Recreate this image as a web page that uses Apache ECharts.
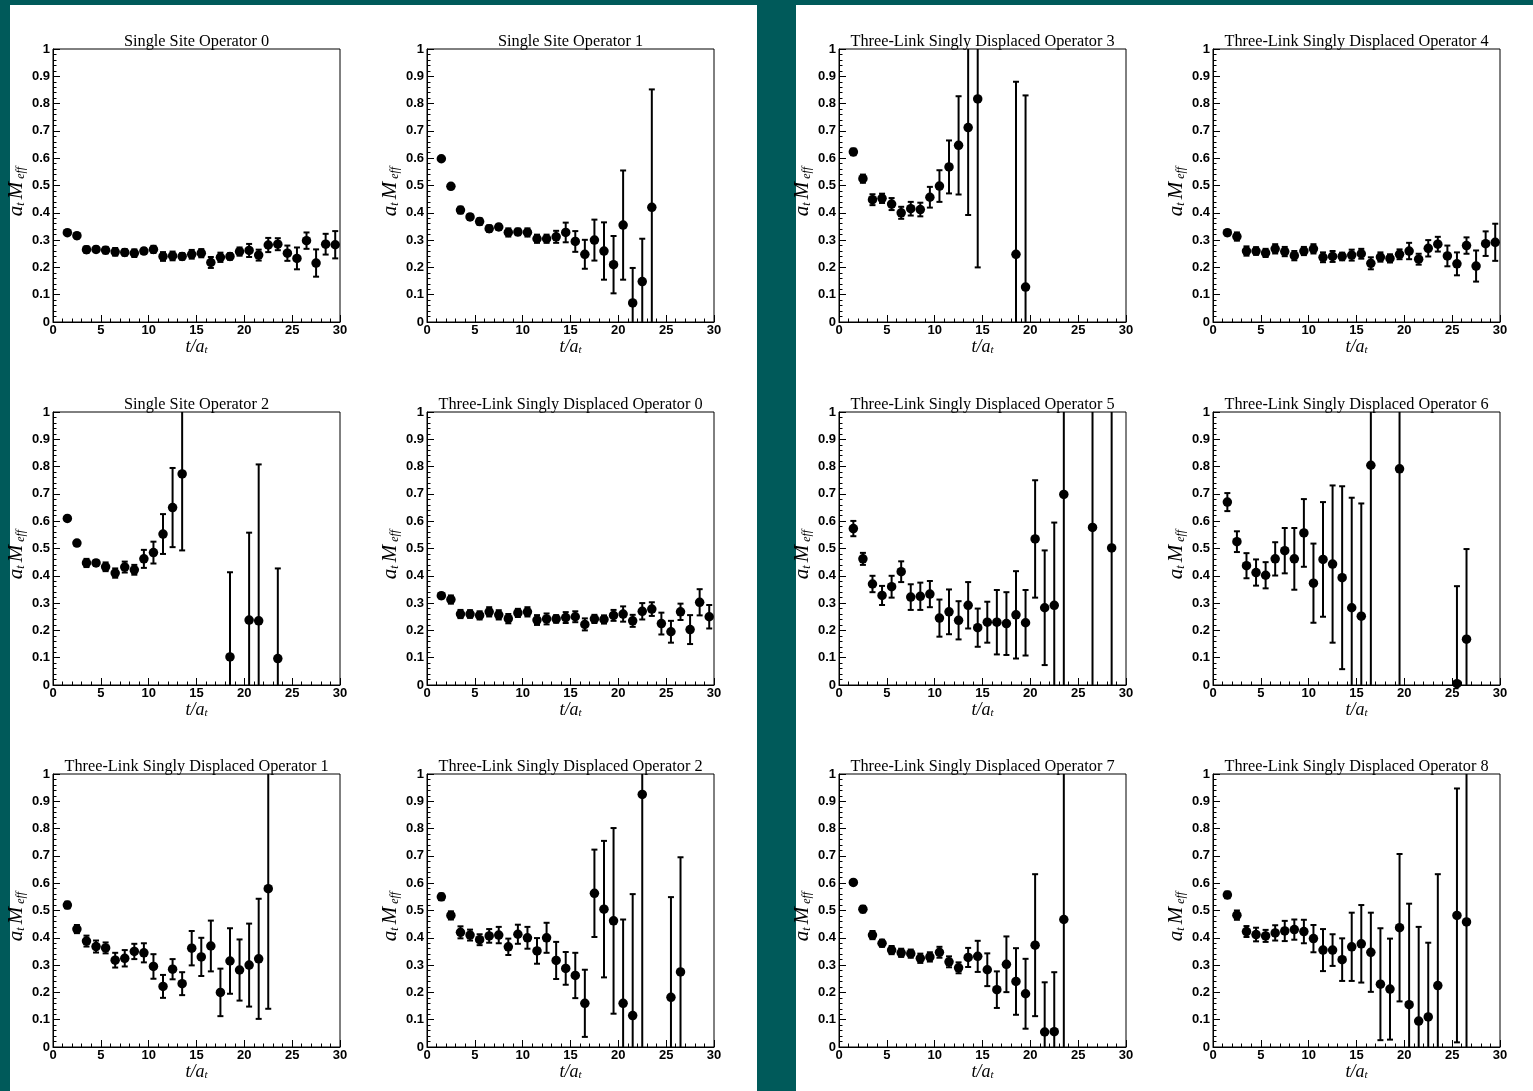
<!DOCTYPE html>
<html>
<head>
<meta charset="utf-8">
<script src="https://cdn.jsdelivr.net/npm/echarts@6/dist/echarts.min.js"></script>
<style>
html,body{margin:0;padding:0;background:#005a5a;}
#c{width:1533px;height:1091px;}
</style>
</head>
<body>
<div id="c"></div>
<script>
// ---------- DATA ----------
const tickX = [0, 5, 10, 15, 20, 25, 30];
const tickY = [0, 0.1, 0.2, 0.3, 0.4, 0.5, 0.6, 0.7, 0.8, 0.9, 1];

const ss0_t = [1.5,2.5,3.5,4.5,5.5,6.5,7.5,8.5,9.5,10.5,11.5,12.5,13.5,14.5,15.5,16.5,17.5,18.5,19.5,20.5,21.5,22.5,23.5,24.5,25.5,26.5,27.5,28.5,29.5];
const ss0_m = [0.327,0.316,0.265,0.266,0.263,0.257,0.255,0.252,0.260,0.266,0.240,0.242,0.240,0.248,0.252,0.218,0.237,0.240,0.258,0.262,0.245,0.282,0.285,0.252,0.233,0.298,0.216,0.285,0.283];
const ss0_e = [0.008,0.010,0.012,0.010,0.012,0.014,0.012,0.014,0.010,0.013,0.016,0.016,0.012,0.016,0.015,0.020,0.017,0.012,0.015,0.024,0.020,0.026,0.022,0.028,0.040,0.030,0.050,0.038,0.050];

const ss1_t = [1.5,2.5,3.5,4.5,5.5,6.5,7.5,8.5,9.5,10.5,11.5,12.5,13.5,14.5,15.5,16.5,17.5,18.5,19.5,20.5,21.5,22.5,23.5];
const ss1_m = [0.598,0.497,0.410,0.385,0.368,0.342,0.348,0.328,0.330,0.328,0.305,0.305,0.312,0.328,0.295,0.248,0.300,0.260,0.210,0.355,0.070,0.148,0.420];
const ss1_e = [0.005,0.008,0.012,0.010,0.012,0.012,0.010,0.015,0.012,0.015,0.015,0.015,0.022,0.036,0.038,0.053,0.075,0.105,0.105,0.200,0.128,0.157,0.432];

const ss2_t = [1.5,2.5,3.5,4.5,5.5,6.5,7.5,8.5,9.5,10.5,11.5,12.5,13.5,18.5,20.5,21.5,23.5];
const ss2_m = [0.610,0.520,0.447,0.447,0.433,0.410,0.432,0.422,0.462,0.485,0.553,0.650,0.773,0.103,0.238,0.235,0.097];
const ss2_e = [0.006,0.008,0.015,0.010,0.016,0.017,0.020,0.018,0.033,0.040,0.073,0.145,0.280,0.310,0.320,0.573,0.330];

const tl0_t = [1.5,2.5,3.5,4.5,5.5,6.5,7.5,8.5,9.5,10.5,11.5,12.5,13.5,14.5,15.5,16.5,17.5,18.5,19.5,20.5,21.5,22.5,23.5,24.5,25.5,26.5,27.5,28.5,29.5];
const tl0_m = [0.327,0.313,0.260,0.260,0.255,0.268,0.257,0.243,0.264,0.268,0.238,0.242,0.242,0.247,0.250,0.222,0.242,0.240,0.255,0.260,0.235,0.270,0.278,0.225,0.195,0.268,0.203,0.303,0.250];
const tl0_e = [0.010,0.015,0.015,0.014,0.015,0.017,0.017,0.017,0.015,0.017,0.018,0.020,0.014,0.020,0.020,0.022,0.015,0.015,0.020,0.028,0.022,0.030,0.025,0.040,0.040,0.030,0.053,0.048,0.043];

const tl1_t = [1.5,2.5,3.5,4.5,5.5,6.5,7.5,8.5,9.5,10.5,11.5,12.5,13.5,14.5,15.5,16.5,17.5,18.5,19.5,20.5,21.5,22.5];
const tl1_m = [0.520,0.432,0.388,0.368,0.363,0.318,0.325,0.350,0.345,0.295,0.222,0.285,0.232,0.362,0.330,0.370,0.200,0.315,0.282,0.300,0.323,0.580];
const tl1_e = [0.012,0.015,0.020,0.022,0.020,0.027,0.030,0.028,0.035,0.045,0.042,0.037,0.042,0.063,0.070,0.093,0.087,0.120,0.112,0.152,0.220,0.440];

const tl2_t = [1.5,2.5,3.5,4.5,5.5,6.5,7.5,8.5,9.5,10.5,11.5,12.5,13.5,14.5,15.5,16.5,17.5,18.5,19.5,20.5,21.5,22.5,25.5,26.5];
const tl2_m = [0.550,0.482,0.420,0.410,0.393,0.407,0.410,0.367,0.413,0.400,0.352,0.400,0.317,0.288,0.262,0.160,0.563,0.505,0.462,0.160,0.115,0.925,0.182,0.275];
const tl2_e = [0.012,0.015,0.022,0.020,0.020,0.025,0.030,0.030,0.035,0.040,0.047,0.055,0.068,0.060,0.083,0.123,0.160,0.250,0.340,0.307,0.445,1.000,0.367,0.420];

const tl3_t = [1.5,2.5,3.5,4.5,5.5,6.5,7.5,8.5,9.5,10.5,11.5,12.5,13.5,14.5,18.5,19.5];
const tl3_m = [0.623,0.525,0.448,0.453,0.432,0.400,0.415,0.412,0.457,0.498,0.568,0.647,0.712,0.817,0.248,0.128];
const tl3_e = [0.012,0.015,0.020,0.017,0.022,0.022,0.025,0.025,0.038,0.058,0.097,0.180,0.320,0.617,0.632,0.702];

const tl4_t = [1.5,2.5,3.5,4.5,5.5,6.5,7.5,8.5,9.5,10.5,11.5,12.5,13.5,14.5,15.5,16.5,17.5,18.5,19.5,20.5,21.5,22.5,23.5,24.5,25.5,26.5,27.5,28.5,29.5];
const tl4_m = [0.327,0.313,0.260,0.260,0.253,0.268,0.258,0.243,0.260,0.268,0.237,0.240,0.240,0.245,0.250,0.215,0.238,0.233,0.248,0.260,0.230,0.270,0.285,0.242,0.213,0.280,0.205,0.287,0.292];
const tl4_e = [0.010,0.015,0.017,0.014,0.015,0.017,0.017,0.017,0.015,0.017,0.018,0.020,0.014,0.020,0.018,0.022,0.017,0.015,0.018,0.030,0.020,0.030,0.027,0.038,0.042,0.030,0.057,0.045,0.068];

const tl5_t = [1.5,2.5,3.5,4.5,5.5,6.5,7.5,8.5,9.5,10.5,11.5,12.5,13.5,14.5,15.5,16.5,17.5,18.5,19.5,20.5,21.5,22.5,23.5,26.5,28.5];
const tl5_m = [0.573,0.462,0.370,0.328,0.360,0.415,0.322,0.325,0.333,0.245,0.268,0.237,0.292,0.210,0.230,0.230,0.225,0.257,0.228,0.535,0.283,0.292,0.698,0.577,0.502];
const tl5_e = [0.028,0.022,0.030,0.035,0.040,0.038,0.047,0.050,0.048,0.068,0.082,0.070,0.085,0.070,0.075,0.118,0.115,0.160,0.120,0.215,0.210,0.303,0.800,0.800,0.800];

const tl6_t = [1.5,2.5,3.5,4.5,5.5,6.5,7.5,8.5,9.5,10.5,11.5,12.5,13.5,14.5,15.5,16.5,19.5,25.5,26.5];
const tl6_m = [0.670,0.525,0.437,0.412,0.402,0.462,0.492,0.462,0.557,0.373,0.460,0.443,0.393,0.283,0.252,0.805,0.792,0.005,0.168];
const tl6_e = [0.033,0.038,0.046,0.048,0.048,0.061,0.083,0.113,0.124,0.145,0.210,0.288,0.335,0.403,0.413,0.900,0.900,0.357,0.330];

const tl7_t = [1.5,2.5,3.5,4.5,5.5,6.5,7.5,8.5,9.5,10.5,11.5,12.5,13.5,14.5,15.5,16.5,17.5,18.5,19.5,20.5,21.5,22.5,23.5];
const tl7_m = [0.603,0.505,0.410,0.380,0.355,0.345,0.342,0.325,0.330,0.347,0.312,0.290,0.328,0.332,0.283,0.210,0.303,0.240,0.195,0.373,0.055,0.056,0.467];
const tl7_e = [0.006,0.012,0.015,0.013,0.015,0.015,0.015,0.017,0.017,0.020,0.020,0.020,0.035,0.057,0.060,0.067,0.102,0.122,0.128,0.260,0.182,0.218,0.600];

const tl8_t = [1.5,2.5,3.5,4.5,5.5,6.5,7.5,8.5,9.5,10.5,11.5,12.5,13.5,14.5,15.5,16.5,17.5,18.5,19.5,20.5,21.5,22.5,23.5,25.5,26.5];
const tl8_m = [0.557,0.483,0.423,0.412,0.407,0.418,0.425,0.430,0.423,0.397,0.355,0.355,0.320,0.367,0.378,0.347,0.230,0.212,0.437,0.155,0.095,0.110,0.225,0.482,0.458];
const tl8_e = [0.012,0.017,0.020,0.025,0.022,0.028,0.037,0.037,0.043,0.050,0.077,0.058,0.078,0.125,0.142,0.145,0.205,0.185,0.270,0.370,0.345,0.272,0.408,0.465,0.600];

const panelTitles = [
  'Single Site Operator 0', 'Single Site Operator 1', 'Three-Link Singly Displaced Operator 3', 'Three-Link Singly Displaced Operator 4',
  'Single Site Operator 2', 'Three-Link Singly Displaced Operator 0', 'Three-Link Singly Displaced Operator 5', 'Three-Link Singly Displaced Operator 6',
  'Three-Link Singly Displaced Operator 1', 'Three-Link Singly Displaced Operator 2', 'Three-Link Singly Displaced Operator 7', 'Three-Link Singly Displaced Operator 8'
];
const panelData = [
  [ss0_t, ss0_m, ss0_e], [ss1_t, ss1_m, ss1_e], [tl3_t, tl3_m, tl3_e], [tl4_t, tl4_m, tl4_e],
  [ss2_t, ss2_m, ss2_e], [tl0_t, tl0_m, tl0_e], [tl5_t, tl5_m, tl5_e], [tl6_t, tl6_m, tl6_e],
  [tl1_t, tl1_m, tl1_e], [tl2_t, tl2_m, tl2_e], [tl7_t, tl7_m, tl7_e], [tl8_t, tl8_m, tl8_e]
];

// ---------- LAYOUT ----------
const colLeft = [53, 427, 839, 1213];
const rowTop = [49, 412, 774];
const plotW = 287, plotH = 273;

const chart = echarts.init(document.getElementById('c'), null, {renderer: 'canvas'});

const grids = [], xAxes = [], yAxes = [], series = [], titles = [];
const labelFont = {fontFamily: 'Liberation Sans, Arial, sans-serif', fontWeight: 'bold', fontSize: 13, color: '#000'};
const serif = 'Liberation Serif, Times New Roman, serif';

panelData.forEach((pd, i) => {
  const r = Math.floor(i / 4), c = i % 4;
  const left = colLeft[c], top = rowTop[r];
  grids.push({left: left, top: top, width: plotW, height: plotH, show: true,
    borderColor: '#000', borderWidth: 1, backgroundColor: 'transparent', containLabel: false});
  titles.push({text: panelTitles[i], left: left + plotW / 2, top: top - 15, textAlign: 'center', padding: 0,
    textStyle: {fontFamily: serif, fontSize: 16.3, fontWeight: 'normal', color: '#000'}});
  xAxes.push({type: 'value', gridIndex: i, min: tickX[0], max: tickX[tickX.length - 1], interval: 5,
    axisLine: {show: true, onZero: false, lineStyle: {color: '#000', width: 1}},
    axisTick: {show: true, inside: true, length: 7, lineStyle: {color: '#000', width: 1}},
    minorTick: {show: true, splitNumber: 5, length: 3.5, lineStyle: {color: '#000', width: 1}},
    splitLine: {show: false},
    axisLabel: Object.assign({margin: 2, showMinLabel: true, showMaxLabel: true}, labelFont),
    name: '{i|t/a}{s|t}', nameLocation: 'middle', nameGap: 7,
    nameTextStyle: {rich: {
      i: {fontFamily: serif, fontStyle: 'italic', fontSize: 18, color: '#000', verticalAlign: 'middle', lineHeight: 18},
      s: {fontFamily: serif, fontStyle: 'italic', fontSize: 11, color: '#000', verticalAlign: 'bottom', lineHeight: 8}
    }}
  });
  yAxes.push({type: 'value', gridIndex: i, min: tickY[0], max: tickY[tickY.length - 1], interval: 0.1,
    axisLine: {show: true, onZero: false, lineStyle: {color: '#000', width: 1}},
    axisTick: {show: true, inside: true, length: 7, lineStyle: {color: '#000', width: 1}},
    minorTick: {show: true, splitNumber: 5, length: 3.5, lineStyle: {color: '#000', width: 1}},
    splitLine: {show: false},
    axisLabel: Object.assign({margin: 3, showMinLabel: true, showMaxLabel: true}, labelFont),
    name: '{a|a}{s|t }{a|M}{s| eff}', nameLocation: 'middle', nameGap: 26, nameRotate: 90,
    nameTextStyle: {padding: [0, 12, 0, 0], rich: {
      a: {fontFamily: serif, fontStyle: 'italic', fontSize: 21, color: '#000', verticalAlign: 'middle', lineHeight: 21},
      s: {fontFamily: serif, fontStyle: 'italic', fontSize: 12, color: '#000', verticalAlign: 'bottom', lineHeight: 8}
    }}
  });
  const data = pd[0].map((t, k) => [t, pd[1][k], pd[2][k]]);
  series.push({
    type: 'custom', xAxisIndex: i, yAxisIndex: i, data: data, encode: {x: 0, y: 1}, z: 3, silent: true,
    renderItem: function (params, api) {
      const x = api.value(0), y = api.value(1), e = api.value(2);
      const yMin = tickY[0], yMax = tickY[tickY.length - 1];
      const lo = Math.max(y - e, yMin), hi = Math.min(y + e, yMax);
      const pLo = api.coord([x, lo]), pHi = api.coord([x, hi]);
      const st = {stroke: '#000', lineWidth: 2};
      const ch = [{type: 'line', shape: {x1: pLo[0], y1: pLo[1], x2: pHi[0], y2: pHi[1]}, style: st}];
      const cw = 3;
      if (y + e <= yMax) ch.push({type: 'line', shape: {x1: pHi[0] - cw, y1: pHi[1], x2: pHi[0] + cw, y2: pHi[1]}, style: st});
      if (y - e >= yMin) ch.push({type: 'line', shape: {x1: pLo[0] - cw, y1: pLo[1], x2: pLo[0] + cw, y2: pLo[1]}, style: st});
      return {type: 'group', children: ch};
    }
  });
  series.push({
    type: 'scatter', xAxisIndex: i, yAxisIndex: i, data: data.map(d => [d[0], d[1]]),
    symbol: 'circle', symbolSize: 9.5, itemStyle: {color: '#000', opacity: 1}, z: 4, silent: true, clip: false
  });
});

chart.setOption({
  backgroundColor: '#005a5a',
  animation: false,
  graphic: [
    {type: 'rect', z: -100, silent: true, shape: {x: 10, y: 5, width: 747, height: 1086}, style: {fill: '#fff'}},
    {type: 'rect', z: -100, silent: true, shape: {x: 796, y: 5, width: 737, height: 1086}, style: {fill: '#fff'}}
  ],
  title: titles,
  grid: grids,
  xAxis: xAxes,
  yAxis: yAxes,
  series: series
});
</script>
</body>
</html>
